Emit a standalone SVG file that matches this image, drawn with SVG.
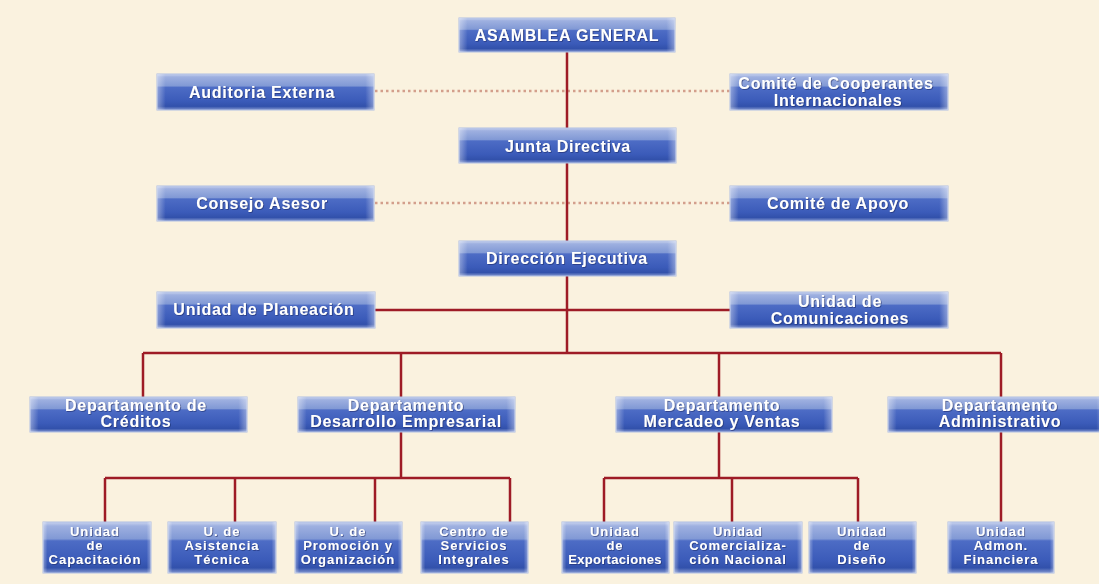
<svg xmlns="http://www.w3.org/2000/svg" width="1099" height="584" viewBox="0 0 1099 584">
<defs>
<linearGradient id="bv" x1="0" y1="0" x2="0" y2="1">
<stop offset="0" stop-color="#c9d3ee"/>
<stop offset="0.08" stop-color="#9eb0e0"/>
<stop offset="0.33" stop-color="#8199d5"/>
<stop offset="0.37" stop-color="#4d6cc5"/>
<stop offset="0.75" stop-color="#3b5bb9"/>
<stop offset="0.9" stop-color="#3251ab"/>
<stop offset="1" stop-color="#8397d0"/>
</linearGradient>
<linearGradient id="bh" x1="0" y1="0" x2="1" y2="0">
<stop offset="0" stop-color="#ffffff" stop-opacity="0.4"/>
<stop offset="0.04" stop-color="#ffffff" stop-opacity="0"/>
<stop offset="0.96" stop-color="#ffffff" stop-opacity="0"/>
<stop offset="1" stop-color="#ffffff" stop-opacity="0.4"/>
</linearGradient>
<filter id="ts" x="-10%" y="-30%" width="120%" height="160%">
<feDropShadow dx="0.8" dy="0.8" stdDeviation="0.4" flood-color="#1c2c66" flood-opacity="0.7"/>
</filter>
<style>
.box{fill:url(#bv);stroke:#aebde3;stroke-width:1}
.hl{fill:url(#bh)}
.t{font-family:"Liberation Sans",Arial,sans-serif;font-weight:bold;fill:#ffffff;text-anchor:middle;font-size:16px;letter-spacing:0.75px;filter:url(#ts)}
.s{font-size:13px;letter-spacing:1px}
.ln{fill:none;stroke:#9e1c26;stroke-width:2.5}
.dot{fill:none;stroke:#d39f8c;stroke-width:2.5;stroke-dasharray:2.5 3}
</style>
</defs>
<rect x="0" y="0" width="1099" height="584" fill="#faf2df"/>
<g id="connectors">
<path class="dot" d="M375,91 H730 M375,203 H730"/>
<path class="ln" d="M567,52 V353 M375,310 H730 M143,353 H1001 M143,353 V397 M401,353 V397 M719,353 V397 M1001,353 V397"/>
<path class="ln" d="M401,432 V478 M105,478 H510 M105,478 V522 M235,478 V522 M375,478 V522 M510,478 V522"/>
<path class="ln" d="M719,432 V478 M604,478 H858 M604,478 V522 M732,478 V522 M858,478 V522"/>
<path class="ln" d="M1001,432 V522"/>
</g>
<g id="n-asamblea"><rect class="box" x="459" y="18" width="216" height="34"/><rect class="hl" x="459" y="18" width="216" height="34"/><text class="t" x="567" y="41">ASAMBLEA GENERAL</text></g>
<g id="n-auditoria"><rect class="box" x="157" y="74" width="217" height="36"/><rect class="hl" x="157" y="74" width="217" height="36"/><text class="t" x="262" y="98">Auditoria Externa</text></g>
<g id="n-cooperantes"><rect class="box" x="730" y="74" width="218" height="36"/><rect class="hl" x="730" y="74" width="218" height="36"/><text class="t" x="836" y="89">Comité de Cooperantes</text><text class="t" x="838" y="106">Internacionales</text></g>
<g id="n-junta"><rect class="box" x="459" y="128" width="217" height="35"/><rect class="hl" x="459" y="128" width="217" height="35"/><text class="t" x="568" y="152">Junta Directiva</text></g>
<g id="n-consejo"><rect class="box" x="157" y="186" width="217" height="35"/><rect class="hl" x="157" y="186" width="217" height="35"/><text class="t" x="262" y="209">Consejo Asesor</text></g>
<g id="n-apoyo"><rect class="box" x="730" y="186" width="218" height="35"/><rect class="hl" x="730" y="186" width="218" height="35"/><text class="t" x="838" y="209">Comité de Apoyo</text></g>
<g id="n-direccion"><rect class="box" x="459" y="241" width="217" height="35"/><rect class="hl" x="459" y="241" width="217" height="35"/><text class="t" x="567" y="264">Dirección Ejecutiva</text></g>
<g id="n-planeacion"><rect class="box" x="157" y="292" width="218" height="36"/><rect class="hl" x="157" y="292" width="218" height="36"/><text class="t" x="264" y="315">Unidad de Planeación</text></g>
<g id="n-comunicaciones"><rect class="box" x="730" y="292" width="218" height="36"/><rect class="hl" x="730" y="292" width="218" height="36"/><text class="t" x="840" y="307">Unidad de</text><text class="t" x="840" y="324">Comunicaciones</text></g>
<g id="n-creditos"><rect class="box" x="30" y="397" width="217" height="35"/><rect class="hl" x="30" y="397" width="217" height="35"/><text class="t" x="136" y="411">Departamento de</text><text class="t" x="136" y="427">Créditos</text></g>
<g id="n-desarrollo"><rect class="box" x="298" y="397" width="217" height="35"/><rect class="hl" x="298" y="397" width="217" height="35"/><text class="t" x="406" y="411">Departamento</text><text class="t" x="406" y="427">Desarrollo Empresarial</text></g>
<g id="n-mercadeo"><rect class="box" x="616" y="397" width="216" height="35"/><rect class="hl" x="616" y="397" width="216" height="35"/><text class="t" x="722" y="411">Departamento</text><text class="t" x="722" y="427">Mercadeo y Ventas</text></g>
<g id="n-administrativo"><rect class="box" x="888" y="397" width="217" height="35"/><rect class="hl" x="888" y="397" width="217" height="35"/><text class="t" x="1000" y="411">Departamento</text><text class="t" x="1000" y="427">Administrativo</text></g>
<g id="n-capacitacion"><rect class="box" x="43" y="522" width="108" height="51"/><rect class="hl" x="43" y="522" width="108" height="51"/><text class="t s" x="95" y="536">Unidad</text><text class="t s" x="95" y="550">de</text><text class="t s" x="95" y="564">Capacitación</text></g>
<g id="n-asistencia"><rect class="box" x="168" y="522" width="108" height="51"/><rect class="hl" x="168" y="522" width="108" height="51"/><text class="t s" x="222" y="536">U. de</text><text class="t s" x="222" y="550">Asistencia</text><text class="t s" x="222" y="564">Técnica</text></g>
<g id="n-promocion"><rect class="box" x="295" y="522" width="107" height="51"/><rect class="hl" x="295" y="522" width="107" height="51"/><text class="t s" x="348" y="536">U. de</text><text class="t s" x="348" y="550">Promoción y</text><text class="t s" x="348" y="564">Organización</text></g>
<g id="n-centro"><rect class="box" x="421" y="522" width="107" height="51"/><rect class="hl" x="421" y="522" width="107" height="51"/><text class="t s" x="474" y="536">Centro de</text><text class="t s" x="474" y="550">Servicios</text><text class="t s" x="474" y="564">Integrales</text></g>
<g id="n-exportaciones"><rect class="box" x="562" y="522" width="107" height="51"/><rect class="hl" x="562" y="522" width="107" height="51"/><text class="t s" x="615" y="536">Unidad</text><text class="t s" x="615" y="550">de</text><text class="t s" x="615" y="564" style="letter-spacing:0.3px">Exportaciones</text></g>
<g id="n-comercializacion"><rect class="box" x="674" y="522" width="128" height="51"/><rect class="hl" x="674" y="522" width="128" height="51"/><text class="t s" x="738" y="536">Unidad</text><text class="t s" x="738" y="550">Comercializa-</text><text class="t s" x="738" y="564">ción Nacional</text></g>
<g id="n-diseno"><rect class="box" x="809" y="522" width="107" height="51"/><rect class="hl" x="809" y="522" width="107" height="51"/><text class="t s" x="862" y="536">Unidad</text><text class="t s" x="862" y="550">de</text><text class="t s" x="862" y="564">Diseño</text></g>
<g id="n-financiera"><rect class="box" x="948" y="522" width="106" height="51"/><rect class="hl" x="948" y="522" width="106" height="51"/><text class="t s" x="1001" y="536">Unidad</text><text class="t s" x="1001" y="550">Admon.</text><text class="t s" x="1001" y="564">Financiera</text></g>
</svg>
